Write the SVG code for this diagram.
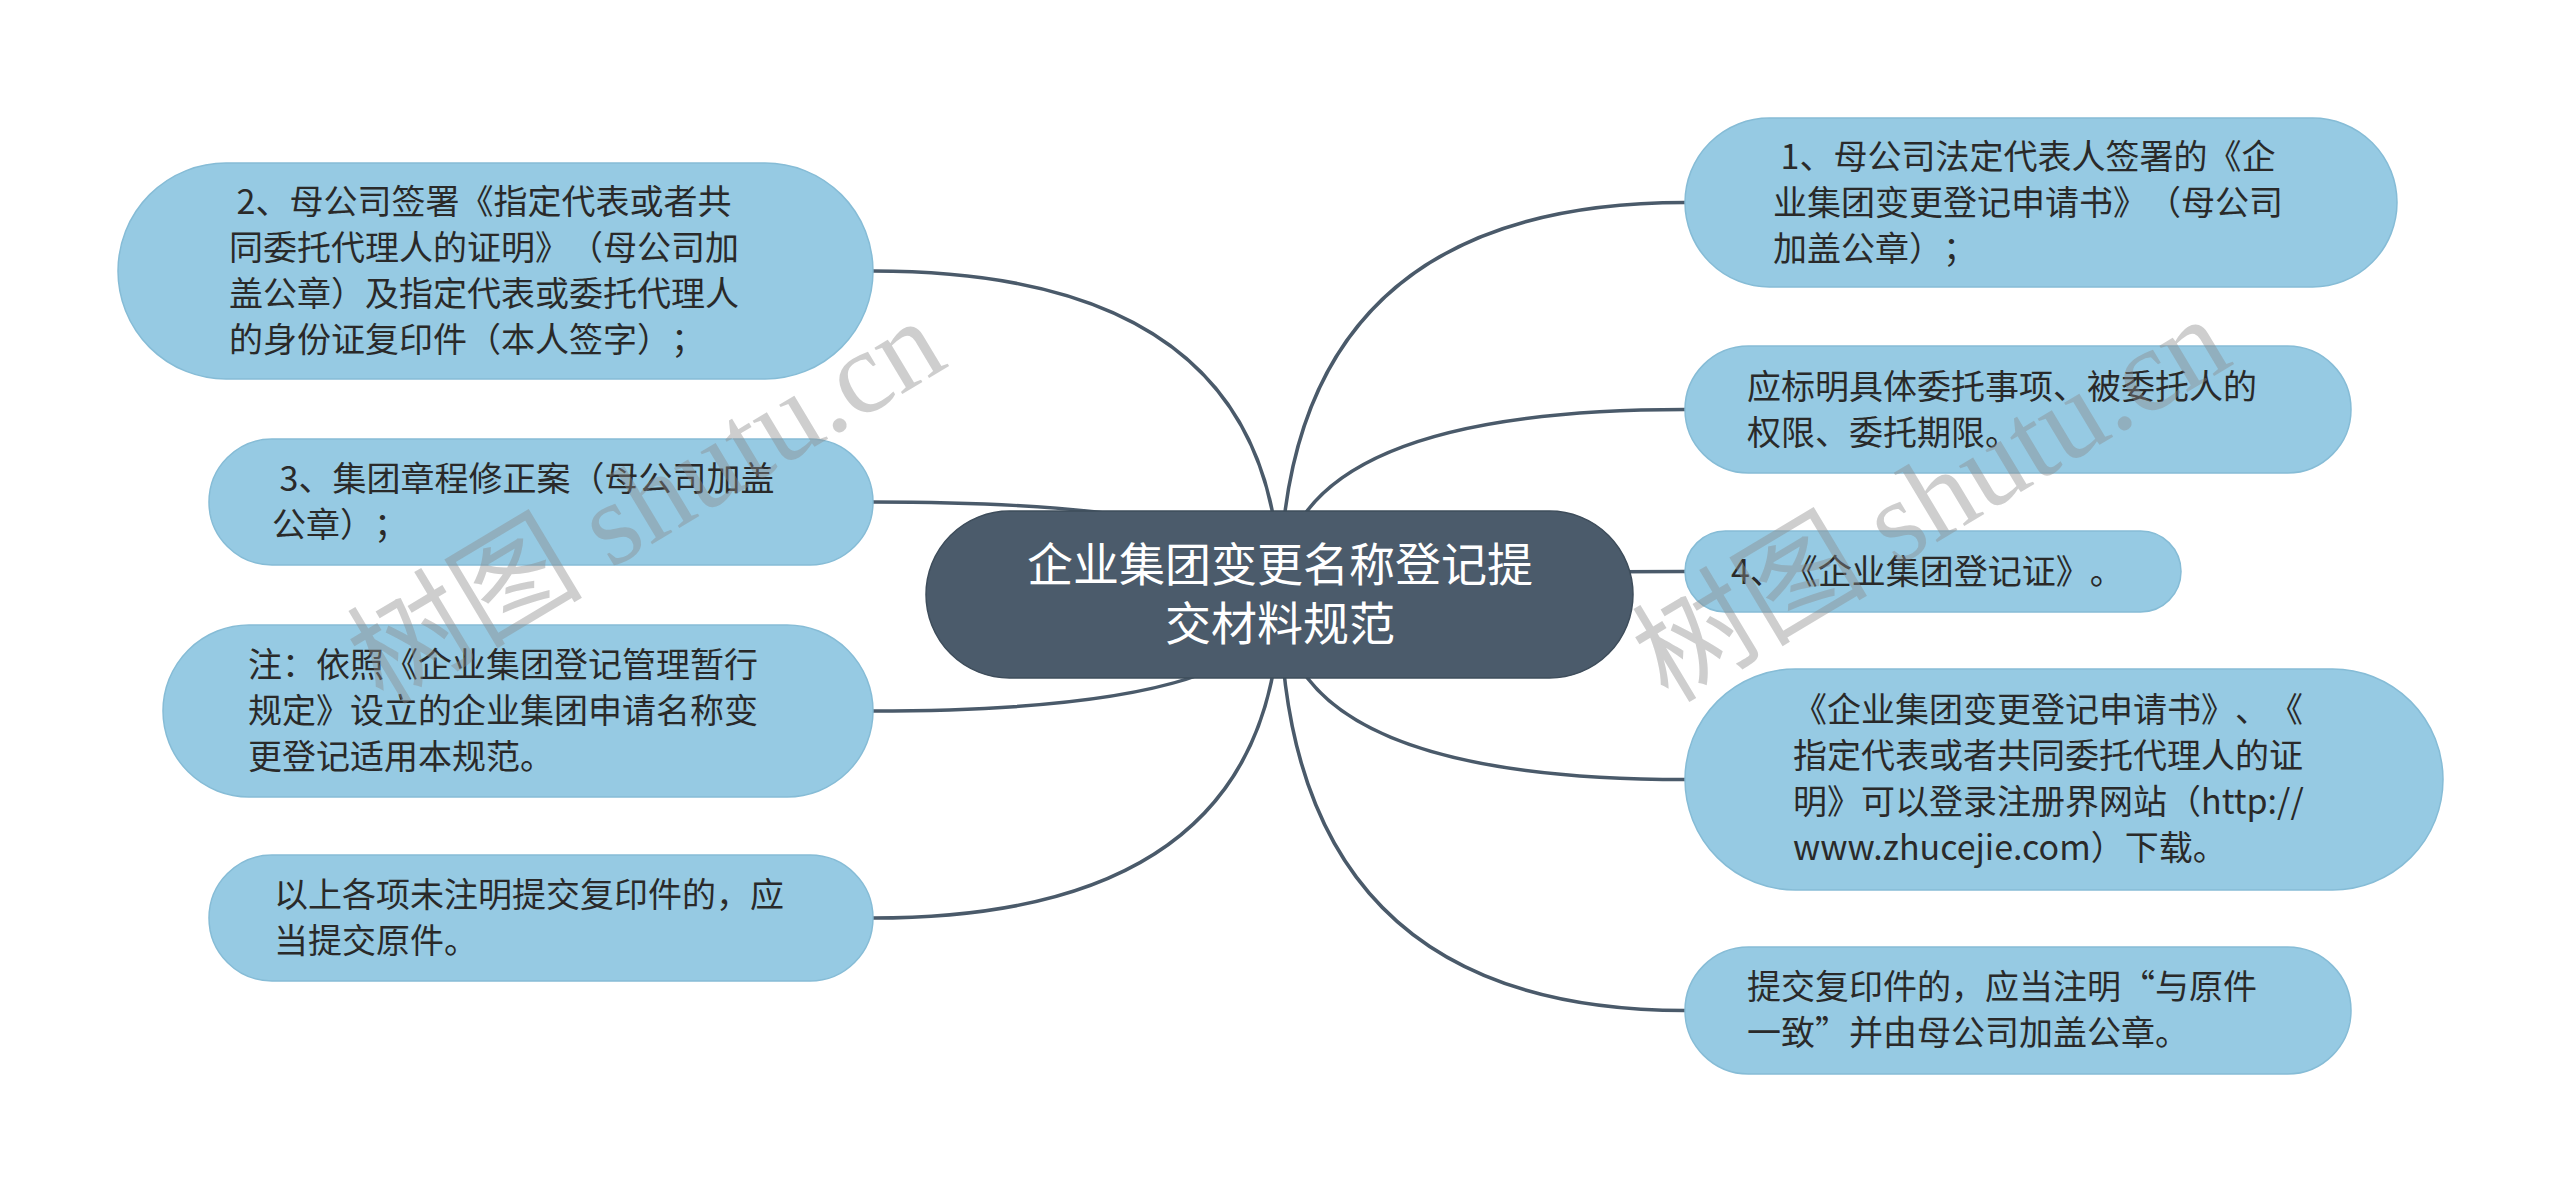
<svg xmlns="http://www.w3.org/2000/svg" width="2560" height="1191" viewBox="0 0 2560 1191">
<style>
.bg{fill:#ffffff}
.conn path{fill:none;stroke:#4a5a6a;stroke-width:3.5}
.leaf rect{fill:#96cae3;stroke:#86bcd6;stroke-width:1.5}
.leaf text{font-family:"Noto Sans CJK SC","Noto Sans",sans-serif;font-size:34px;fill:#2a2a2a;text-spacing-trim:space-all}
.root rect{fill:#4b5b6b;stroke:#3e4d5b;stroke-width:1.5}
.root text{font-family:"Noto Sans CJK SC","Noto Sans",sans-serif;font-size:46px;fill:#ffffff;text-anchor:middle}
.wm{font-family:"Liberation Serif","Noto Sans CJK SC",serif;font-size:118px;fill:#8a8a8a;fill-opacity:0.42}
</style>
<rect class="bg" x="0" y="0" width="2560" height="1191"/>
<g id="connectors" class="conn">
<path d="M1280,594 Q1280,271 873,271"/>
<path d="M1280,594 Q1280,502 873,502"/>
<path d="M1280,594 Q1280,711 873,711"/>
<path d="M1280,594 Q1280,918 873,918"/>
<path d="M1280,594 Q1280,202.5 1685,202.5"/>
<path d="M1280,594 Q1280,409.5 1685,409.5"/>
<path d="M1280,594 Q1280,571.5 1685,571.5"/>
<path d="M1280,594 Q1280,779.5 1685,779.5"/>
<path d="M1280,594 Q1280,1010.5 1685,1010.5"/>
</g>
<g id="root" class="root">
<rect x="926" y="511" width="707" height="167" rx="83.5"/>
<text x="1280" y="581">企业集团变更名称登记提</text>
<text x="1280" y="640">交材料规范</text>
</g>
<g id="node-l1" class="leaf">
<rect x="118" y="163" width="755" height="216" rx="108"/>
<text x="229" y="214" xml:space="preserve"> 2、母公司签署《指定代表或者共</text>
<text x="229" y="260">同委托代理人的证明》（母公司加</text>
<text x="229" y="306">盖公章）及指定代表或委托代理人</text>
<text x="229" y="352">的身份证复印件（本人签字）；</text>
</g>
<g id="node-l2" class="leaf">
<rect x="209" y="439" width="664" height="126" rx="63"/>
<text x="272" y="491" xml:space="preserve"> 3、集团章程修正案（母公司加盖</text>
<text x="272" y="537">公章）；</text>
</g>
<g id="node-l3" class="leaf">
<rect x="163" y="625" width="710" height="172" rx="86"/>
<text x="248" y="677">注：依照《企业集团登记管理暂行</text>
<text x="248" y="723">规定》设立的企业集团申请名称变</text>
<text x="248" y="769">更登记适用本规范。</text>
</g>
<g id="node-l4" class="leaf">
<rect x="209" y="855" width="664" height="126" rx="63"/>
<text x="274" y="907">以上各项未注明提交复印件的，应</text>
<text x="274" y="953">当提交原件。</text>
</g>
<g id="node-r1" class="leaf">
<rect x="1685" y="118" width="712" height="169" rx="84.5"/>
<text x="1773" y="169" xml:space="preserve"> 1、母公司法定代表人签署的《企</text>
<text x="1773" y="215">业集团变更登记申请书》（母公司</text>
<text x="1773" y="261">加盖公章）；</text>
</g>
<g id="node-r2" class="leaf">
<rect x="1685" y="346" width="666" height="127" rx="63.5"/>
<text x="1747" y="399">应标明具体委托事项、被委托人的</text>
<text x="1747" y="445">权限、委托期限。</text>
</g>
<g id="node-r3" class="leaf">
<rect x="1685" y="531" width="496" height="81" rx="40.5"/>
<text x="1731" y="584">4、《企业集团登记证》。</text>
</g>
<g id="node-r4" class="leaf">
<rect x="1685" y="669" width="758" height="221" rx="110.5"/>
<text x="1793" y="722">《企业集团变更登记申请书》、《</text>
<text x="1793" y="768">指定代表或者共同委托代理人的证</text>
<text x="1793" y="814">明》可以登录注册界网站（http://</text>
<text x="1793" y="860">www.zhucejie.com）下载。</text>
</g>
<g id="node-r5" class="leaf">
<rect x="1685" y="947" width="666" height="127" rx="63.5"/>
<text x="1747" y="999">提交复印件的，应当注明“与原件</text>
<text x="1747" y="1045">一致”并由母公司加盖公章。</text>
</g>
<g id="watermarks">
<text class="wm" transform="translate(383,706) rotate(-31)">树图 shutu.cn</text>
<text class="wm" transform="translate(1668,704) rotate(-31)">树图 shutu.cn</text>
</g>
</svg>
